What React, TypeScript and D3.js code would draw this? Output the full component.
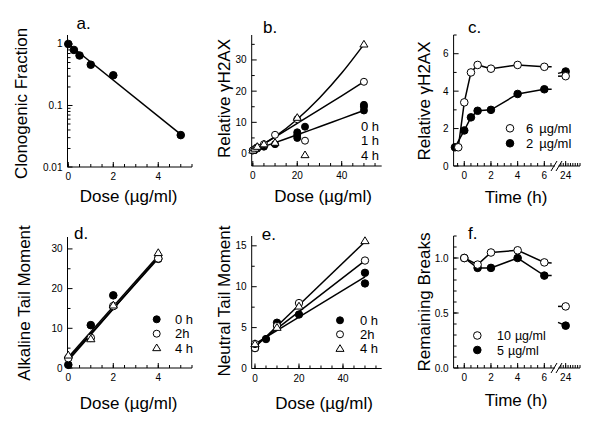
import React from 'react';
import * as d3 from 'd3';

// ---------- Panel a: clonogenic survival ----------
const doseA = [0, 0.25, 0.5, 1, 2, 5];
const survivalA = [1, 0.8, 0.65, 0.46, 0.31, 0.033];
const fitDoseA = [0, 5];
const fitSurvivalA = [1, 0.034];

// ---------- Panel b: relative gH2AX vs dose ----------
const doseB0 = [0, 1, 2, 5, 10, 20, 20, 20, 50, 50, 50];
const gammaB0 = [1, 1.3, 1.6, 2.2, 3, 5, 6, 6.8, 13.8, 15, 15.6];
const doseB1 = [0, 1, 2, 5, 10, 20, 50];
const gammaB1 = [1, 1.5, 2, 3, 6, 11, 23];
const doseB4 = [0, 1, 2, 5, 10, 20, 50];
const gammaB4 = [1, 1.6, 2.2, 3, 3.5, 11.5, 35];
const fitDoseB = [0, 10, 20, 30, 40, 50];
const fitB0 = [1, 3.5, 6, 8.6, 11.2, 13.8];
const fitB1 = [1, 5.3, 9.7, 14.1, 18.5, 23];
const fitB4 = [1, 5.4, 11, 17.8, 25.8, 35];
const legendB = ['0 h', '1 h', '4 h'];

// ---------- Panel c: relative gH2AX vs time ----------
const timeC6 = [-0.45, 0, 0.5, 1, 2, 4, 6, 6.55];
const gammaC6 = [1, 3.4, 5.0, 5.4, 5.2, 5.4, 5.3, 5.3];
const timeC2 = [-0.7, 0, 0.5, 1, 2, 4, 6, 6.55];
const gammaC2 = [1, 1.9, 2.6, 2.95, 3.0, 3.85, 4.1, 4.1];
const markerCountC = 7;
const lateTimeC = [22.4, 24];
const lateC6 = [4.8, 4.8];
const lateC2 = [4.95, 5.05];
const legendCNum = ['6', '2'];
const legendUnit = '\u00b5g/ml';

// ---------- Panel d: alkaline tail moment ----------
const doseD = [0, 1, 2, 4];
const tailD0 = [0.8, 10.8, 18.3, 27.5];
const tailD2 = [2.5, 7.6, 15.6, 27.6];
const tailD4 = [3.2, 7.3, 15.8, 29];
const fitDoseD = [0, 4];
const fitD0 = [1.9, 27.9];
const fitD2 = [2.3, 27.6];
const fitD4 = [2.7, 28.3];
const legendD = ['0 h', '2h', '4 h'];

// ---------- Panel e: neutral tail moment ----------
const doseE0 = [0, 0, 5, 10, 20, 50, 50];
const tailE0 = [2.5, 2.7, 3.6, 5.6, 6.6, 11.7, 10.4];
const doseE2 = [0, 0, 10, 20, 50];
const tailE2 = [2.5, 3.0, 5.2, 8.0, 13.2];
const doseE4 = [0, 10, 20, 50];
const tailE4 = [3.0, 5.0, 7.6, 15.6];
const fitDoseE = [0, 50];
const fitE0 = [3.0, 11.2];
const fitE2 = [2.8, 13.2];
const fitE4 = [2.6, 15.5];
const legendE = ['0 h', '2h', '4 h'];

// ---------- Panel f: remaining breaks ----------
const timeF = [0, 1, 2, 4, 6, 6.55];
const breaksF10 = [1.0, 0.94, 1.05, 1.07, 0.96, 0.955];
const breaksF5 = [1.0, 0.91, 0.91, 1.0, 0.84, 0.84];
const markerCountF = 5;
const lateTimeF = [22.4, 24];
const lateF10 = [0.56, 0.56];
const lateF5 = [0.415, 0.385];
const legendFNum = ['10', '5'];

const FONT = "'Liberation Sans', Arial, Helvetica, sans-serif";
const TICK_FS = 10;
const TITLE_FS = 17;
const LEG_FS = 13;
const PANEL_FS = 17;

function Marker({ kind, x, y, r = 3.7 }: { kind: string; x: number; y: number; r?: number }) {
  if (kind === 'filled') return <circle cx={x} cy={y} r={r} fill="#000" stroke="#000" strokeWidth={1} />;
  if (kind === 'open') return <circle cx={x} cy={y} r={r} fill="#fff" stroke="#000" strokeWidth={1} />;
  const h = r * 1.9;
  const w = r * 1.15;
  const pts = [[x, y - h * 0.6], [x + w, y + h * 0.4], [x - w, y + h * 0.4]].map(p => p.join(',')).join(' ');
  return <polygon points={pts} fill="#fff" stroke="#000" strokeWidth={1} />;
}

function Path({ xs, ys, sx, sy, curve = d3.curveLinear, w = 1.5 }: any) {
  const gen = d3.line<number>().x((_, i) => sx(xs[i])).y((_, i) => sy(ys[i])).curve(curve);
  return <path d={gen(xs) || ''} fill="none" stroke="#000" strokeWidth={w} />;
}

function Points({ xs, ys, sx, sy, kind, n, r }: any) {
  const count = n ?? xs.length;
  return (
    <g>
      {xs.slice(0, count).map((v: number, i: number) => (
        <Marker key={i} kind={kind} x={sx(v)} y={sy(ys[i])} r={r} />
      ))}
    </g>
  );
}

function YAxis({ sy, x0, y0, y1, major, minor, fmt }: any) {
  return (
    <g>
      <line x1={x0} x2={x0} y1={y0} y2={y1} stroke="#000" strokeWidth={1} />
      {minor.map((v: number, i: number) => (
        <line key={'m' + i} x1={x0} x2={x0 + 3} y1={sy(v)} y2={sy(v)} stroke="#000" strokeWidth={1} />
      ))}
      {major.map((v: number, i: number) => (
        <g key={'M' + i}>
          <line x1={x0} x2={x0 + 5} y1={sy(v)} y2={sy(v)} stroke="#000" strokeWidth={1} />
          <text x={x0 - 5} y={sy(v)} dy="0.35em" textAnchor="end" fontSize={TICK_FS} fontFamily={FONT}>
            {fmt(v)}
          </text>
        </g>
      ))}
    </g>
  );
}

function XTicks({ sx, y0, major, minor, fmt }: any) {
  return (
    <g>
      {minor.map((v: number, i: number) => (
        <line key={'m' + i} x1={sx(v)} x2={sx(v)} y1={y0} y2={y0 - 3} stroke="#000" strokeWidth={1} />
      ))}
      {major.map((v: number, i: number) => (
        <g key={'M' + i}>
          <line x1={sx(v)} x2={sx(v)} y1={y0} y2={y0 - 5} stroke="#000" strokeWidth={1} />
          <text x={sx(v)} y={y0 + 13} textAnchor="middle" fontSize={TICK_FS} fontFamily={FONT}>
            {fmt(v)}
          </text>
        </g>
      ))}
    </g>
  );
}

function YTitle({ x, y, text }: any) {
  return (
    <text transform={`translate(${x},${y}) rotate(-90)`} textAnchor="middle" fontSize={TITLE_FS} fontFamily={FONT}>
      {text}
    </text>
  );
}

function Txt({ x, y, text, size = TITLE_FS, anchor = 'start' }: any) {
  return (
    <text x={x} y={y} fontSize={size} fontFamily={FONT} textAnchor={anchor}>
      {text}
    </text>
  );
}

function Legend({ x, tx, ys, kinds, labels, r = 3.5, size = LEG_FS }: any) {
  return (
    <g>
      {labels.map((l: string, i: number) => (
        <g key={i}>
          <Marker kind={kinds[i]} x={x} y={ys[i]} r={r} />
          <text x={tx} y={ys[i]} dy="0.36em" fontSize={size} fontFamily={FONT}>{l}</text>
        </g>
      ))}
    </g>
  );
}

function ConcLegend({ x, tx, ys, kinds, nums, unit, gap, r = 3.8, size = LEG_FS }: any) {
  return (
    <g>
      {nums.map((n: string, i: number) => (
        <g key={i}>
          <Marker kind={kinds[i]} x={x} y={ys[i]} r={r} />
          <text x={tx} y={ys[i]} dy="0.36em" fontSize={size} fontFamily={FONT}>
            {n}
            <tspan dx={gap}>{unit}</tspan>
          </text>
        </g>
      ))}
    </g>
  );
}

const rangeStep = (a: number, b: number, s: number) => d3.range(Math.round((b - a) / s) + 1).map(i => +(a + i * s).toFixed(4));

function BreakMarks({ xs, y }: { xs: number[]; y: number }) {
  return (
    <g>
      {xs.map((x, i) => (
        <line key={i} x1={x - 3} y1={y + 5} x2={x + 3} y2={y - 5} stroke="#000" strokeWidth={1} />
      ))}
    </g>
  );
}

export default function App() {
  const xA = d3.scaleLinear().domain([0, 5.5]).range([68.3, 192]);
  const yA = d3.scaleLog().domain([0.01, 1.4]).range([167, 35]);

  const xB = d3.scaleLinear().domain([-0.5, 58]).range([251.7, 381.7]);
  const yB = d3.scaleLinear().domain([-4, 38]).range([166, 35]);

  const xC = d3.scaleLinear().domain([-0.8, 6.8]).range([453.6, 555]);
  const xCR = d3.scaleLinear().domain([22.5, 27]).range([558.5, 580]);
  const yC = d3.scaleLinear().domain([0, 7]).range([166, 35]);

  const xD = d3.scaleLinear().domain([0, 5.5]).range([68.3, 192]);
  const yD = d3.scaleLinear().domain([0, 33]).range([368, 237]);

  const xE = d3.scaleLinear().domain([-1.5, 57.6]).range([251.7, 381.7]);
  const yE = d3.scaleLinear().domain([0, 16.2]).range([368.5, 236]);

  const xF = xC;
  const xFR = xCR;
  const yF = d3.scaleLinear().domain([0, 1.2]).range([368, 236]);

  const logMinor: number[] = [];
  [0.01, 0.1, 1].forEach(dec => [2, 3, 4, 5, 6, 7, 8, 9].forEach(k => { const v = dec * k; if (v <= 1.4) logMinor.push(v); }));

  const f0 = (v: number) => String(v);

  return (
    <svg width={600} height={424} style={{ position: 'fixed', left: 0, top: 0, background: '#fff' }}>
      <rect x={0} y={0} width={600} height={424} fill="#fff" />

      {/* ================= Panel a ================= */}
      <g>
        <YAxis sy={yA} x0={67.5} y0={167} y1={35} major={[0.01, 0.1, 1]} minor={logMinor} fmt={(v: number) => String(v)} />
        <line x1={67.5} x2={192} y1={167} y2={167} stroke="#000" />
        <XTicks sx={xA} y0={167} major={[0, 2, 4]} minor={rangeStep(0, 5.5, 0.5)} fmt={f0} />
        <Path xs={fitDoseA} ys={fitSurvivalA} sx={xA} sy={yA} />
        <Points xs={doseA} ys={survivalA} sx={xA} sy={yA} kind="filled" r={3.8} />
        <Txt x={76.5} y={29} text="a." size={PANEL_FS} />
        <YTitle x={27} y={103.5} text="Clonogenic Fraction" />
        <Txt x={128.5} y={202} text={'Dose (\u00b5g/ml)'} anchor="middle" />
      </g>

      {/* ================= Panel b ================= */}
      <g>
        <YAxis sy={yB} x0={251.7} y0={166} y1={35} major={[0, 10, 20, 30]} minor={[5, 15, 25, 35]} fmt={f0} />
        <line x1={251.7} x2={381.7} y1={166} y2={166} stroke="#000" />
        <XTicks sx={xB} y0={166} major={[0, 20, 40]} minor={rangeStep(0, 55, 5)} fmt={f0} />
        <Path xs={fitDoseB} ys={fitB0} sx={xB} sy={yB} curve={d3.curveMonotoneX} />
        <Path xs={fitDoseB} ys={fitB1} sx={xB} sy={yB} curve={d3.curveMonotoneX} />
        <Path xs={fitDoseB} ys={fitB4} sx={xB} sy={yB} curve={d3.curveMonotoneX} />
        <Points xs={doseB0} ys={gammaB0} sx={xB} sy={yB} kind="filled" r={3.5} />
        <Points xs={doseB1} ys={gammaB1} sx={xB} sy={yB} kind="open" r={3.5} />
        <Points xs={doseB4} ys={gammaB4} sx={xB} sy={yB} kind="tri" r={3.5} />
        <Legend x={305} tx={361} ys={[126.7, 140.7, 155]} kinds={['filled', 'open', 'tri']} labels={legendB} />
        <Txt x={263} y={33} text="b." size={PANEL_FS} />
        <YTitle x={230} y={98.5} text={'Relative \u03b3H2AX'} />
        <Txt x={323} y={202} text={'Dose (\u00b5g/ml)'} anchor="middle" />
      </g>

      {/* ================= Panel c ================= */}
      <g>
        <YAxis sy={yC} x0={453.6} y0={166} y1={35} major={[0, 2, 4, 6]} minor={[1, 3, 5, 7]} fmt={f0} />
        <line x1={453.6} x2={555} y1={166} y2={166} stroke="#000" />
        <line x1={558.5} x2={580} y1={166} y2={166} stroke="#000" />
        <BreakMarks xs={[554, 559]} y={166} />
        <XTicks sx={xC} y0={166} major={[0, 2, 4, 6]} minor={rangeStep(-0.5, 6.5, 0.5)} fmt={f0} />
        <XTicks sx={xCR} y0={166} major={[24]} minor={rangeStep(23, 27, 0.5)} fmt={f0} />
        <Path xs={timeC2} ys={gammaC2} sx={xC} sy={yC} />
        <Path xs={timeC6} ys={gammaC6} sx={xC} sy={yC} />
        <Points xs={timeC2} ys={gammaC2} sx={xC} sy={yC} kind="filled" n={markerCountC} r={3.8} />
        <Points xs={timeC6} ys={gammaC6} sx={xC} sy={yC} kind="open" n={markerCountC} r={3.8} />
        <Path xs={lateTimeC} ys={lateC2} sx={xCR} sy={yC} />
        <Path xs={lateTimeC} ys={lateC6} sx={xCR} sy={yC} />
        <Marker kind="filled" x={xCR(lateTimeC[1])} y={yC(lateC2[1])} r={3.8} />
        <Marker kind="open" x={xCR(lateTimeC[1])} y={yC(lateC6[1])} r={3.8} />
        <ConcLegend x={510} tx={526} ys={[128.3, 143.3]} kinds={['open', 'filled']} nums={legendCNum} unit={legendUnit} gap={6} />
        <Txt x={468} y={33} text="c." size={PANEL_FS} />
        <YTitle x={430} y={101} text={'Relative \u03b3H2AX'} />
        <Txt x={516} y={203} text="Time (h)" anchor="middle" />
      </g>

      {/* ================= Panel d ================= */}
      <g>
        <YAxis sy={yD} x0={67.5} y0={368} y1={237} major={[0, 10, 20, 30]} minor={[5, 15, 25]} fmt={f0} />
        <line x1={67.5} x2={192} y1={368} y2={368} stroke="#000" />
        <XTicks sx={xD} y0={368} major={[0, 2, 4]} minor={rangeStep(0, 5.5, 0.5)} fmt={f0} />
        <Path xs={fitDoseD} ys={fitD0} sx={xD} sy={yD} />
        <Path xs={fitDoseD} ys={fitD2} sx={xD} sy={yD} />
        <Path xs={fitDoseD} ys={fitD4} sx={xD} sy={yD} />
        <Points xs={doseD} ys={tailD0} sx={xD} sy={yD} kind="filled" r={3.8} />
        <Points xs={doseD} ys={tailD2} sx={xD} sy={yD} kind="open" r={3.8} />
        <Points xs={doseD} ys={tailD4} sx={xD} sy={yD} kind="tri" r={3.6} />
        <Legend x={156.7} tx={175} ys={[319.3, 333.7, 348]} kinds={['filled', 'open', 'tri']} labels={legendD} />
        <Txt x={74} y={238.7} text="d." size={PANEL_FS} />
        <YTitle x={29.5} y={303} text="Alkaline Tail Moment" />
        <Txt x={128.5} y={409} text={'Dose (\u00b5g/ml)'} anchor="middle" />
      </g>

      {/* ================= Panel e ================= */}
      <g>
        <YAxis sy={yE} x0={251.7} y0={368.5} y1={236} major={[0, 5, 10, 15]} minor={[2.5, 7.5, 12.5]} fmt={f0} />
        <line x1={251.7} x2={381.7} y1={368.5} y2={368.5} stroke="#000" />
        <XTicks sx={xE} y0={368.5} major={[0, 20, 40]} minor={rangeStep(0, 55, 5)} fmt={f0} />
        <Path xs={fitDoseE} ys={fitE0} sx={xE} sy={yE} />
        <Path xs={fitDoseE} ys={fitE2} sx={xE} sy={yE} />
        <Path xs={fitDoseE} ys={fitE4} sx={xE} sy={yE} />
        <Points xs={doseE0} ys={tailE0} sx={xE} sy={yE} kind="filled" r={3.7} />
        <Points xs={doseE2} ys={tailE2} sx={xE} sy={yE} kind="open" r={3.7} />
        <Points xs={doseE4} ys={tailE4} sx={xE} sy={yE} kind="tri" r={3.6} />
        <Legend x={340} tx={360} ys={[320.3, 334.3, 348.7]} kinds={['filled', 'open', 'tri']} labels={legendE} />
        <Txt x={261.7} y={240.3} text="e." size={PANEL_FS} />
        <YTitle x={230} y={301} text="Neutral Tail Moment" />
        <Txt x={324} y={409} text={'Dose (\u00b5g/ml)'} anchor="middle" />
      </g>

      {/* ================= Panel f ================= */}
      <g>
        <YAxis sy={yF} x0={453.6} y0={368} y1={236} major={[0, 0.5, 1.0]} minor={rangeStep(0.1, 1.2, 0.1)} fmt={(v: number) => v.toFixed(1)} />
        <line x1={453.6} x2={555} y1={368} y2={368} stroke="#000" />
        <line x1={558.5} x2={580} y1={368} y2={368} stroke="#000" />
        <BreakMarks xs={[554, 559]} y={368} />
        <XTicks sx={xF} y0={368} major={[0, 2, 4, 6]} minor={rangeStep(-0.5, 6.5, 0.5)} fmt={f0} />
        <XTicks sx={xFR} y0={368} major={[24]} minor={rangeStep(23, 27, 0.5)} fmt={f0} />
        <Path xs={timeF} ys={breaksF5} sx={xF} sy={yF} />
        <Path xs={timeF} ys={breaksF10} sx={xF} sy={yF} />
        <Points xs={timeF} ys={breaksF5} sx={xF} sy={yF} kind="filled" n={markerCountF} r={3.8} />
        <Points xs={timeF} ys={breaksF10} sx={xF} sy={yF} kind="open" n={markerCountF} r={3.8} />
        <Path xs={lateTimeF} ys={lateF10} sx={xFR} sy={yF} />
        <Path xs={lateTimeF} ys={lateF5} sx={xFR} sy={yF} />
        <Marker kind="open" x={xFR(lateTimeF[1])} y={yF(lateF10[1])} r={3.8} />
        <Marker kind="filled" x={xFR(lateTimeF[1])} y={yF(lateF5[1])} r={3.8} />
        <ConcLegend x={477.3} tx={497} ys={[335.5, 350]} kinds={['open', 'filled']} nums={legendFNum} unit={legendUnit} gap={4} size={12.5} />
        <Txt x={468} y={238.7} text="f." size={PANEL_FS} />
        <YTitle x={430} y={302} text="Remaining Breaks" />
        <Txt x={516} y={406} text="Time (h)" anchor="middle" />
      </g>
    </svg>
  );
}
